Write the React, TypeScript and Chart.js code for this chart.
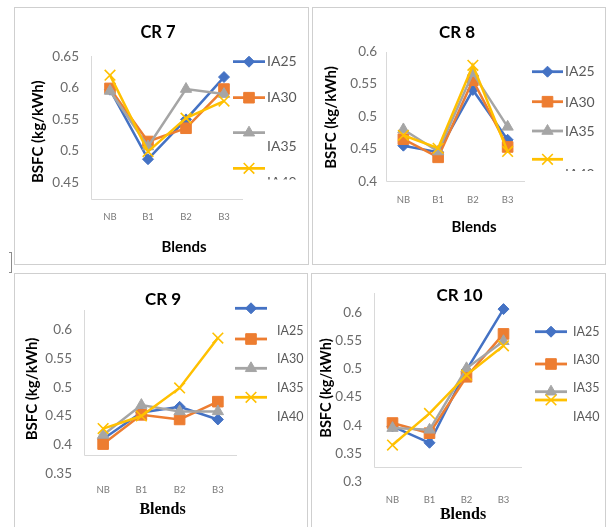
import React, { useEffect, useRef } from 'react';
import { Chart, registerables } from 'chart.js';
import { drawPoint } from 'chart.js/helpers';

Chart.register(...registerables);

// ---------- data ----------
const categories = ['NB', 'B1', 'B2', 'B3'];
const seriesNames = ['IA25', 'IA30', 'IA35', 'IA40'];
const titles = ['CR 7', 'CR 8', 'CR 9', 'CR 10'];
const yAxisTitle = 'BSFC (kg/kWh)';
const xAxisTitle = 'Blends';

// CR 7
const cr7IA25 = [0.597, 0.487, 0.55, 0.617];
const cr7IA30 = [0.599, 0.515, 0.536, 0.598];
const cr7IA35 = [0.595, 0.507, 0.598, 0.59];
const cr7IA40 = [0.62, 0.499, 0.552, 0.579];
const cr7Ticks = [0.45, 0.5, 0.55, 0.6, 0.65];

// CR 8
const cr8IA25 = [0.455, 0.445, 0.541, 0.464];
const cr8IA30 = [0.465, 0.437, 0.556, 0.453];
const cr8IA35 = [0.48, 0.446, 0.567, 0.484];
const cr8IA40 = [0.471, 0.451, 0.579, 0.446];
const cr8Ticks = [0.4, 0.45, 0.5, 0.55, 0.6];

// CR 9
const cr9IA25 = [0.41, 0.456, 0.466, 0.444];
const cr9IA30 = [0.401, 0.452, 0.444, 0.475];
const cr9IA35 = [0.417, 0.469, 0.458, 0.458];
const cr9IA40 = [0.428, 0.45, 0.499, 0.586];
const cr9Ticks = [0.35, 0.4, 0.45, 0.5, 0.55, 0.6];

// CR 10
const cr10IA25 = [0.398, 0.369, 0.498, 0.606];
const cr10IA30 = [0.404, 0.386, 0.486, 0.562];
const cr10IA35 = [0.395, 0.392, 0.501, 0.549];
const cr10IA40 = [0.365, 0.421, 0.489, 0.541];
const cr10Ticks = [0.3, 0.35, 0.4, 0.45, 0.5, 0.55, 0.6];

// ---------- styles ----------
const seriesStyles = [
  { color: '#4472C4', pointStyle: 'rectRot', radius: 5.5, pbw: 1 },
  { color: '#ED7D31', pointStyle: 'rect', radius: 7.5, pbw: 1 },
  { color: '#A5A5A5', pointStyle: 'triangle', radius: 6.5, pbw: 1 },
  { color: '#FFC000', pointStyle: 'crossRot', radius: 7.5, pbw: 1.6 },
];

const SANS = 'Lato, "Open Sans", sans-serif';
const SERIF = '"Liberation Serif", "DejaVu Serif", serif';
const TICK_COLOR = '#595959';

// layout in page coordinates
const panels = [
  {
    title: titles[0], series: [cr7IA25, cr7IA30, cr7IA35, cr7IA40], ticks: cr7Ticks,
    cross: 0.424, top: 0.65,
    box: { x: 14, y: 7, w: 295, h: 258 },
    area: { l: 91, r: 243, t: 56.2, b: 199 },
    xTickPad: 12.3, yTickPad: 12,
    titlePos: [158, 33], titleSize: 16.5,
    yTitlePos: [38, 131.7], yTitleSize: 15,
    xTitlePos: [184, 247], xTitleFont: 'bold 15px ' + SANS,
    legend: { x0: 233, x1: 265, tx: 267, lineY: [61.7, 97.7, 132.7, 168.3], textY: [61.7, 97.7, 146.7, 182.5], clipY: 179.5, size: 14 },
  },
  {
    title: titles[1], series: [cr8IA25, cr8IA30, cr8IA35, cr8IA40], ticks: cr8Ticks,
    cross: 0.4, top: 0.6,
    box: { x: 312, y: 7, w: 294, h: 258 },
    area: { l: 386, r: 525, t: 51.7, b: 181.3 },
    xTickPad: 13, yTickPad: 9,
    titlePos: [457, 33], titleSize: 17,
    yTitlePos: [331, 117.5], yTitleSize: 15,
    xTitlePos: [474, 227], xTitleFont: 'bold 15px ' + SANS,
    legend: { x0: 532, x1: 563, tx: 565, lineY: [71.7, 101.7, 131, 159.3], textY: [71.7, 102.7, 131, 174], clipY: 171, size: 14 },
  },
  {
    title: titles[2], series: [cr9IA25, cr9IA30, cr9IA35, cr9IA40], ticks: cr9Ticks,
    cross: 0.3818, top: 0.635,
    box: { x: 14, y: 273, w: 294, h: 260 },
    area: { l: 84, r: 237, t: 310, b: 473.3 },
    xTickPad: 11, yTickPad: 12,
    titlePos: [163, 300], titleSize: 17,
    yTitlePos: [32.5, 389], yTitleSize: 15,
    xTitlePos: [162.5, 510], xTitleFont: 'bold 16px ' + SERIF,
    legend: { x0: 235, x1: 267, tx: 277, lineY: [308.3, 339, 368.3, 397.3], textY: [331, 359, 387.7, 416.7], clipY: null, size: 12.5 },
  },
  {
    title: titles[3], series: [cr10IA25, cr10IA30, cr10IA35, cr10IA40], ticks: cr10Ticks,
    cross: 0.326, top: 0.634,
    box: { x: 311, y: 273, w: 295, h: 260 },
    area: { l: 374, r: 522, t: 293.3, b: 481.7 },
    xTickPad: 12.6, yTickPad: 12,
    titlePos: [459.5, 296], titleSize: 17,
    yTitlePos: [326, 388], yTitleSize: 14.5,
    xTitlePos: [463, 515], xTitleFont: 'bold 16px ' + SERIF,
    legend: { x0: 535, x1: 567, tx: 573, lineY: [331.7, 364, 391.7, 400], textY: [331.7, 360, 388.3, 416.7], clipY: null, size: 12.5 },
  },
];

function makeDecor(p: any) {
  const ox = p.box.x;
  const oy = p.box.y;
  return {
    id: 'decor',
    beforeDatasetsDraw(chart: any) {
      const { ctx, chartArea, scales } = chart;
      const y = scales.y;
      const yc = Math.round(y.getPixelForValue(p.cross)) + 0.5;
      const yt = Math.round(y.getPixelForValue(p.top));
      const xl = Math.round(chartArea.left) + 0.5;
      ctx.save();
      ctx.strokeStyle = '#d9d9d9';
      ctx.lineWidth = 1;
      ctx.beginPath();
      ctx.moveTo(xl, yt);
      ctx.lineTo(xl, yc);
      ctx.lineTo(Math.round(chartArea.right), yc);
      ctx.stroke();
      ctx.restore();
    },
    afterDraw(chart: any) {
      const { ctx } = chart;
      ctx.save();
      ctx.fillStyle = '#000';
      ctx.textAlign = 'center';
      ctx.textBaseline = 'middle';
      // chart title
      ctx.font = `bold ${p.titleSize}px ${SANS}`;
      ctx.fillText(p.title, p.titlePos[0] - ox, p.titlePos[1] - oy);
      // x axis title
      ctx.font = p.xTitleFont;
      ctx.fillText(xAxisTitle, p.xTitlePos[0] - ox, p.xTitlePos[1] - oy);
      // y axis title
      ctx.save();
      ctx.translate(p.yTitlePos[0] - ox, p.yTitlePos[1] - oy);
      ctx.rotate(-Math.PI / 2);
      ctx.font = `bold ${p.yTitleSize}px ${SANS}`;
      ctx.fillText(yAxisTitle, 0, 0);
      ctx.restore();
      // legend
      const lg = p.legend;
      if (lg.clipY != null) {
        ctx.beginPath();
        ctx.rect(0, 0, p.box.w, lg.clipY - oy);
        ctx.clip();
      }
      seriesNames.forEach((name, i) => {
        const st = seriesStyles[i];
        const ly = lg.lineY[i] - oy;
        ctx.strokeStyle = st.color;
        ctx.fillStyle = st.color;
        ctx.lineWidth = 2.8;
        ctx.beginPath();
        ctx.moveTo(lg.x0 - ox, ly);
        ctx.lineTo(lg.x1 - ox, ly);
        ctx.stroke();
        ctx.lineWidth = st.pbw;
        drawPoint(ctx, { pointStyle: st.pointStyle, radius: st.radius, borderWidth: st.pbw, rotation: 0 } as any,
          (lg.x0 + lg.x1) / 2 - ox, ly);
        ctx.fillStyle = TICK_COLOR;
        ctx.textAlign = 'left';
        ctx.font = `${lg.size}px ${SANS}`;
        ctx.fillText(name, lg.tx - ox, lg.textY[i] - oy);
      });
      ctx.restore();
    },
  };
}

function buildConfig(p: any): any {
  const yMin = Math.min(p.ticks[0], p.cross);
  const yMax = Math.max(p.ticks[p.ticks.length - 1], p.top);
  const datasets = p.series.map((arr: number[], i: number) => {
    const st = seriesStyles[i];
    return {
      label: seriesNames[i],
      data: arr,
      borderColor: st.color,
      backgroundColor: st.color,
      pointBackgroundColor: st.color,
      pointBorderColor: st.color,
      pointStyle: st.pointStyle,
      pointRadius: st.radius,
      pointHoverRadius: st.radius,
      pointBorderWidth: st.pbw,
      borderWidth: 2.5,
      tension: 0,
      clip: false,
      order: 4 - i,
    };
  });
  return {
    type: 'line',
    data: { labels: categories, datasets },
    options: {
      responsive: false,
      animation: false,
      devicePixelRatio: 1,
      events: [],
      layout: {
        padding: {
          left: 0,
          top: p.area.t - p.box.y,
          right: p.box.w - (p.area.r - p.box.x),
          bottom: 0,
        },
      },
      plugins: {
        legend: { display: false },
        title: { display: false },
        tooltip: { enabled: false },
      },
      scales: {
        x: {
          type: 'category',
          offset: true,
          grid: { display: false, drawTicks: false },
          border: { display: false },
          ticks: {
            color: '#7a7a7a',
            font: { family: SANS, size: 9.5 },
            padding: p.xTickPad,
            maxRotation: 0,
            autoSkip: false,
          },
          afterFit: (s: any) => { s.height = p.box.h - (p.area.b - p.box.y); },
        },
        y: {
          type: 'linear',
          min: yMin,
          max: yMax,
          grid: { display: false, drawTicks: false },
          border: { display: false },
          afterBuildTicks: (s: any) => { s.ticks = p.ticks.map((v: number) => ({ value: v })); },
          ticks: {
            color: '#6b6b6b',
            font: { family: SANS, size: 13.5 },
            padding: p.yTickPad,
            callback: (v: any) => String(+Number(v).toFixed(2)),
          },
          afterFit: (s: any) => { s.width = p.area.l - p.box.x; },
        },
      },
    },
    plugins: [makeDecor(p)],
  };
}

function Panel({ p }: { p: any }) {
  const ref = useRef<HTMLCanvasElement>(null);
  useEffect(() => {
    if (!ref.current) return;
    const chart = new Chart(ref.current, buildConfig(p));
    let alive = true;
    if ((document as any).fonts && (document as any).fonts.ready) {
      (document as any).fonts.ready.then(() => { if (alive) chart.update(); });
    }
    return () => { alive = false; chart.destroy(); };
  }, [p]);
  return (
    <>
      <canvas
        ref={ref}
        width={p.box.w}
        height={p.box.h}
        style={{ position: 'absolute', left: p.box.x, top: p.box.y, width: p.box.w, height: p.box.h }}
      />
      <div
        style={{
          position: 'absolute', left: p.box.x, top: p.box.y, width: p.box.w, height: p.box.h,
          boxSizing: 'border-box', border: '1px solid #cfcfcf', pointerEvents: 'none',
        }}
      />
    </>
  );
}

export default function App() {
  return (
    <div style={{ position: 'absolute', left: 0, top: 0, width: 606, height: 527, overflow: 'hidden', background: '#fff' }}>
      {panels.map((p, i) => <Panel key={i} p={p} />)}
      <div style={{ position: 'absolute', left: 9, top: 252, width: 2, height: 19, borderTop: '1px solid #8c8c8c', borderRight: '1px solid #8c8c8c', borderBottom: '1px solid #8c8c8c' }} />
    </div>
  );
}
